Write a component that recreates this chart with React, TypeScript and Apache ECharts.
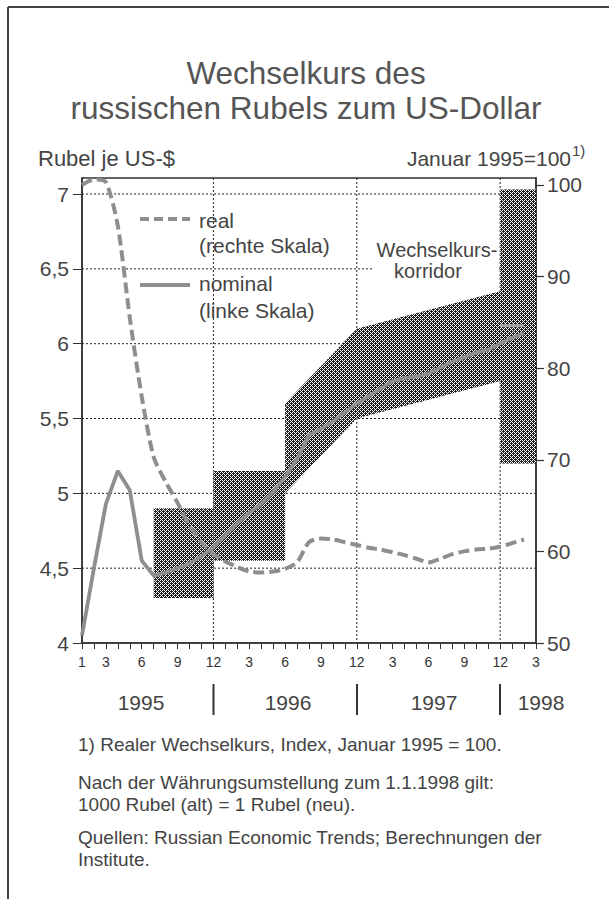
import React, { useEffect, useRef } from "react";
import * as echarts from "echarts";

// x index: 0 = Jan 1995 ... 38 = Mar 1998
const xTickIndex = [0, 2, 5, 8, 11, 14, 17, 20, 23, 26, 29, 32, 35, 38];
const xTickText = ["1", "3", "6", "9", "12", "3", "6", "9", "12", "3", "6", "9", "12", "3"];
const yearLabels = ["1995", "1996", "1997", "1998"];
const yearBoundaries = [11, 23, 35];

// nominal exchange rate (left scale, Rubel je US-$), monthly from Jan 1995
const nominal = [
  4.05, 4.5, 4.93, 5.15, 5.02, 4.55, 4.45, 4.47, 4.5, 4.53, 4.58, 4.64,
  4.72, 4.8, 4.87, 4.93, 5.01, 5.11, 5.23, 5.39, 5.43, 5.48, 5.54, 5.6,
  5.65, 5.7, 5.75, 5.77, 5.78, 5.8, 5.84, 5.88, 5.91, 5.94, 5.96, 6.0,
  6.04, 6.07,
];
// real exchange rate index (right scale, Jan 1995 = 100)
const real = [
  100, 100.6, 100.3, 95.5, 85.5, 76.9, 70.3, 67.6, 65.3, 62.8, 61.0, 59.7,
  58.9, 58.3, 57.8, 57.7, 57.8, 58.1, 58.8, 61.0, 61.4, 61.3, 61.0, 60.7,
  60.4, 60.2, 59.9, 59.6, 59.2, 58.8, 59.2, 59.7, 60.0, 60.2, 60.3, 60.5,
  60.9, 61.3,
];

// exchange-rate corridor segments
const corridorX0 = [6, 11, 17, 23, 35];
const corridorX1 = [11, 17, 23, 35, 38];
const corridorLow0 = [4.3, 4.55, 5.0, 5.5, 5.2];
const corridorLow1 = [4.3, 4.55, 5.5, 5.75, 5.2];
const corridorHigh0 = [4.9, 5.15, 5.6, 6.1, 7.03];
const corridorHigh1 = [4.9, 5.15, 6.1, 6.35, 7.03];

// central rate 1998
const centralRateX = [35, 37];
const centralRateValue = 6.12;

const leftTicks = [4, 4.5, 5, 5.5, 6, 6.5, 7];
const gridValues = [4.5, 5, 5.5, 6, 6.5, 7];
const rightTicks = [50, 60, 70, 80, 90, 100];

const FONT = '"Liberation Sans", Arial, Helvetica, sans-serif';
const TEXT = "#444";
const LINE = "#8e8e8e";

// halftone dot lattice (dark dots on white)
const DOT_PIXELS = [
  [1, 1], [0, 1], [2, 1], [1, 0], [1, 2],
  [3, 3], [2, 3], [0, 3], [3, 2], [3, 0],
];

function makePattern() {
  const c = document.createElement("canvas");
  c.width = 4;
  c.height = 4;
  const g = c.getContext("2d")!;
  g.fillStyle = "#ffffff";
  g.fillRect(0, 0, 4, 4);
  g.fillStyle = "#1c1c1c";
  DOT_PIXELS.forEach(([x, y]) => g.fillRect(x, y, 1, 1));
  return { image: c, repeat: "repeat" };
}

function txt(text: string, x: number, y: number, size: number, opts: any = {}) {
  return {
    type: "text",
    x,
    y,
    z: 20,
    silent: true,
    style: {
      text,
      fontSize: size,
      fontFamily: FONT,
      fill: opts.fill || TEXT,
      align: opts.align || "left",
      verticalAlign: opts.verticalAlign || "middle",
      lineHeight: opts.lineHeight,
    },
  };
}

export default function App() {
  const ref = useRef<HTMLDivElement>(null);
  useEffect(() => {
    document.body.style.margin = "0";
    const el = ref.current!;
    const chart = echarts.init(el, null, { renderer: "svg" });
    const pattern = makePattern();
    const dotted = { stroke: "#222", lineWidth: 1, lineDash: [2, 2] };

    const option: any = {
      animation: false,
      backgroundColor: "#ffffff",
      grid: {
        left: 82,
        right: 73,
        top: 178,
        bottom: 256,
        show: true,
        borderColor: "#333",
        borderWidth: 1.5,
        backgroundColor: "transparent",
      },
      xAxis: {
        type: "value",
        min: 0,
        max: 38,
        interval: 1,
        axisLine: { show: true, lineStyle: { color: "#333", width: 1.5 } },
        axisTick: { show: true, length: 6, lineStyle: { color: "#333", width: 1 } },
        splitLine: { show: false },
        axisLabel: {
          margin: 12,
          fontSize: 14,
          fontFamily: FONT,
          color: "#333",
          formatter: (v: number) => {
            const r = Math.round(v);
            if (Math.abs(v - r) > 1e-6) return "";
            const k = xTickIndex.indexOf(r);
            return k >= 0 ? xTickText[k] : "";
          },
        },
      },
      yAxis: [
        {
          type: "value",
          position: "left",
          min: 4,
          max: 7.107,
          interval: 0.5,
          axisLine: { show: true, lineStyle: { color: "#333", width: 1.5 } },
          axisTick: { show: true, length: 9, customValues: leftTicks, lineStyle: { color: "#333", width: 1 } },
          axisLabel: {
            margin: 13,
            fontSize: 21,
            fontFamily: FONT,
            color: TEXT,
            customValues: leftTicks,
            formatter: (v: number) => String(v).replace(".", ","),
          },
          splitLine: { show: false },
        },
        {
          type: "value",
          position: "right",
          min: 50,
          max: 100.76,
          interval: 10,
          axisLine: { show: true, lineStyle: { color: "#333", width: 1.5 } },
          axisTick: { show: true, length: 8, customValues: rightTicks, lineStyle: { color: "#333", width: 1.2 } },
          axisLabel: {
            margin: 11,
            fontSize: 21,
            fontFamily: FONT,
            color: TEXT,
            customValues: rightTicks,
          },
          splitLine: { show: false },
        },
      ],
      series: [
        {
          type: "custom",
          z: 0,
          silent: true,
          xAxisIndex: 0,
          yAxisIndex: 0,
          data: gridValues.map((v) => [0, v]),
          renderItem: (params: any, api: any) => {
            const y = api.coord([0, api.value(1)])[1];
            const cs = params.coordSys;
            return {
              type: "line",
              shape: { x1: cs.x, y1: y, x2: cs.x + cs.width, y2: y },
              style: dotted,
            };
          },
        },
        {
          type: "custom",
          z: 0,
          silent: true,
          xAxisIndex: 0,
          yAxisIndex: 0,
          data: yearBoundaries.map((b) => [b, 4]),
          renderItem: (params: any, api: any) => {
            const x = api.coord([api.value(0), 4])[0];
            const cs = params.coordSys;
            return {
              type: "line",
              shape: { x1: x, y1: cs.y, x2: x, y2: cs.y + cs.height },
              style: dotted,
            };
          },
        },
        {
          type: "custom",
          z: 1,
          silent: true,
          xAxisIndex: 0,
          yAxisIndex: 0,
          encode: { x: [0, 1], y: [2, 3, 4, 5] },
          data: corridorX0.map((x0, i) => [
            x0,
            corridorX1[i],
            corridorLow0[i],
            corridorLow1[i],
            corridorHigh0[i],
            corridorHigh1[i],
          ]),
          renderItem: (params: any, api: any) => {
            const x0 = api.value(0);
            const x1 = api.value(1);
            const pts = [
              api.coord([x0, api.value(2)]),
              api.coord([x1, api.value(3)]),
              api.coord([x1, api.value(5)]),
              api.coord([x0, api.value(4)]),
            ];
            return {
              type: "polygon",
              shape: { points: pts },
              style: { fill: pattern, stroke: null },
            };
          },
        },
        {
          name: "real",
          type: "line",
          yAxisIndex: 1,
          zlevel: 1,
          z: 100,
          smooth: 0.25,
          showSymbol: false,
          silent: true,
          data: real.map((v, i) => [i, v]),
          lineStyle: { color: LINE, width: 4, type: [11, 5], cap: "butt" },
        },
        {
          name: "nominal",
          type: "line",
          yAxisIndex: 0,
          zlevel: 1,
          z: 100,
          showSymbol: false,
          silent: true,
          data: nominal.map((v, i) => [i, v]),
          lineStyle: { color: LINE, width: 3.8 },
        },
        {
          name: "central",
          type: "line",
          yAxisIndex: 0,
          zlevel: 1,
          z: 100,
          showSymbol: false,
          silent: true,
          data: centralRateX.map((x) => [x, centralRateValue]),
          lineStyle: { color: "#a5a5a5", width: 3 },
        },
      ],
      graphic: [
        { type: "line", z: 20, silent: true, shape: { x1: 8, y1: 7, x2: 609, y2: 7 }, style: { stroke: "#444", lineWidth: 2 } },
        { type: "line", z: 20, silent: true, shape: { x1: 8, y1: 7, x2: 8, y2: 899 }, style: { stroke: "#444", lineWidth: 2 } },
        txt("Wechselkurs des\nrussischen Rubels zum US-Dollar", 306, 55, 31.5, {
          align: "center",
          verticalAlign: "top",
          lineHeight: 35,
          fill: "#555",
        }),
        txt("Rubel je US-$", 38, 158, 22),
        txt("Januar 1995=100", 571, 158, 21, { align: "right" }),
        txt("1)", 572, 150, 15),
        // legend
        { type: "line", z: 20, silent: true, shape: { x1: 140, y1: 219, x2: 190, y2: 219 }, style: { stroke: LINE, lineWidth: 4, lineDash: [9, 5] } },
        txt("real", 199, 220, 21),
        txt("(rechte Skala)", 199, 245, 21),
        { type: "line", z: 20, silent: true, shape: { x1: 140, y1: 285, x2: 190, y2: 285 }, style: { stroke: LINE, lineWidth: 3.8 } },
        txt("nominal", 199, 283, 21),
        txt("(linke Skala)", 199, 310, 21),
        // corridor label
        { type: "rect", z: 15, silent: true, shape: { x: 374, y: 237, width: 125, height: 47 }, style: { fill: "#ffffff" } },
        txt("Wechselkurs-", 437, 250, 20, { align: "center" }),
        txt("korridor", 428, 271, 20, { align: "center" }),
        // year row
        txt(yearLabels[0], 141, 702, 21, { align: "center" }),
        txt(yearLabels[1], 288, 702, 21, { align: "center" }),
        txt(yearLabels[2], 434, 702, 21, { align: "center" }),
        txt(yearLabels[3], 541, 702, 21, { align: "center" }),
        { type: "line", z: 20, silent: true, shape: { x1: 213.5, y1: 684, x2: 213.5, y2: 715 }, style: { stroke: "#333", lineWidth: 2 } },
        { type: "line", z: 20, silent: true, shape: { x1: 357, y1: 684, x2: 357, y2: 715 }, style: { stroke: "#333", lineWidth: 2 } },
        { type: "line", z: 20, silent: true, shape: { x1: 500, y1: 684, x2: 500, y2: 715 }, style: { stroke: "#333", lineWidth: 2 } },
        // footnotes
        txt("1) Realer Wechselkurs, Index, Januar 1995 = 100.", 78, 744, 19),
        txt("Nach der Währungsumstellung zum 1.1.1998 gilt:", 78, 782, 19),
        txt("1000 Rubel (alt) = 1 Rubel (neu).", 78, 804, 19),
        txt("Quellen: Russian Economic Trends; Berechnungen der", 78, 837, 19),
        txt("Institute.", 78, 859, 19),
      ],
    };
    chart.setOption(option);
    return () => chart.dispose();
  }, []);
  return (
    <div
      ref={ref}
      style={{ position: "absolute", left: 0, top: 0, width: 609, height: 899, background: "#fff" }}
    />
  );
}
